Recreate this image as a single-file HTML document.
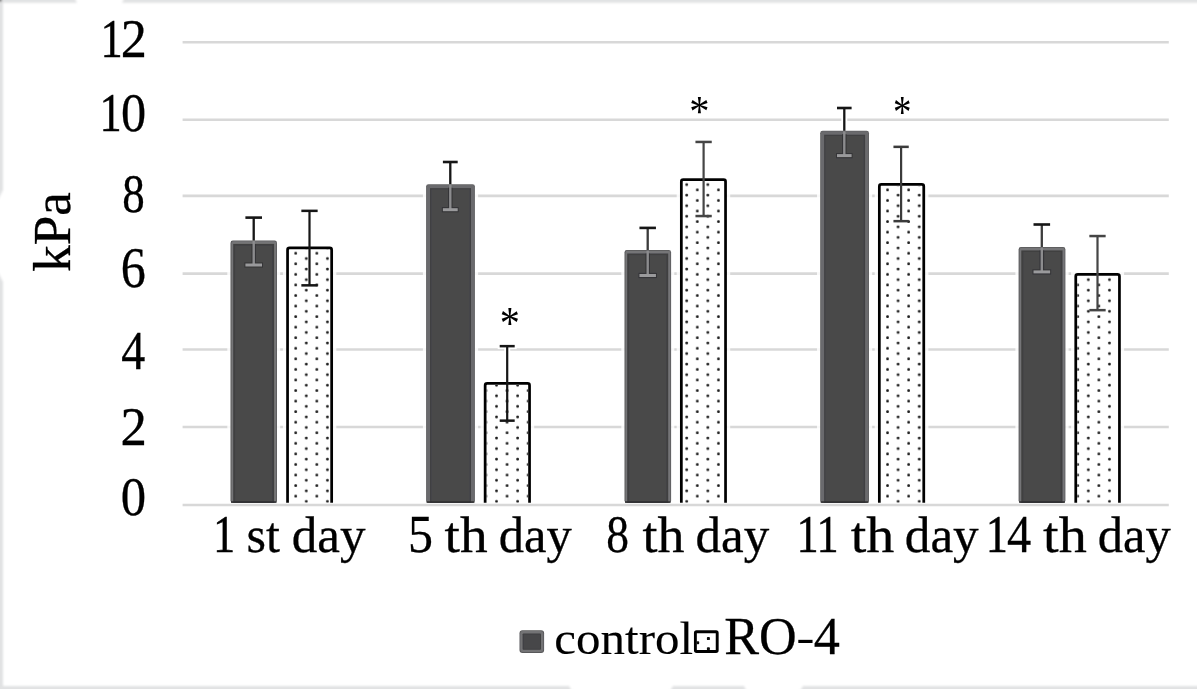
<!DOCTYPE html>
<html><head><meta charset="utf-8"><title>chart</title>
<style>
html,body{margin:0;padding:0;background:#fff;}
body{width:1197px;height:689px;overflow:hidden;}
svg{display:block;}
text{font-family:"Liberation Serif","Times New Roman",serif;fill:#000;}
</style></head><body>
<svg width="1197" height="689" viewBox="0 0 1197 689">
<defs>
<filter id="soft" x="-2%" y="-2%" width="104%" height="104%"><feGaussianBlur stdDeviation="0.55"/></filter>
<filter id="soft2" filterUnits="userSpaceOnUse" x="-20" y="-20" width="1240" height="730"><feGaussianBlur stdDeviation="0.8"/></filter>
<pattern id="dots" patternUnits="userSpaceOnUse" x="294.20" y="251.70" width="21.136" height="10.56">
<rect x="0.2" y="0.2" width="2.6" height="2.6" rx="0.9" fill="#1c1c1c"/>
<rect x="10.768" y="5.48" width="2.6" height="2.6" rx="0.9" fill="#1c1c1c"/>
</pattern>
</defs>
<rect width="1197" height="689" fill="#fff"/>

<g filter="url(#soft2)" fill="#e1e2e3">
<path d="M-9 -9 H71 L77 2.7 H-9 Z"/>
<path d="M128 -9 H1206 V2.7 H122 Z"/>
<path d="M-9 -9 H3.0 V190 L-9 214 Z"/>
<path d="M-9 258 L3.0 282 V698 H-9 Z"/>
<path d="M-9 685.9 H569 L576 698 H-9 Z"/>
<path d="M673 685.9 H744 L750 698 H666 Z"/>
<path d="M803 685.9 H1206 V698 H796 Z"/>
<circle cx="0" cy="0" r="1.8" fill="#555"/>
</g>
<g filter="url(#soft)">
<line x1="182.6" x2="1168.8" y1="42.25" y2="42.25" stroke="#d8d8d8" stroke-width="2.6"/>
<line x1="182.6" x2="1168.8" y1="119.8" y2="119.8" stroke="#d8d8d8" stroke-width="2.6"/>
<line x1="182.6" x2="1168.8" y1="195.85" y2="195.85" stroke="#d8d8d8" stroke-width="2.6"/>
<line x1="182.6" x2="1168.8" y1="273.6" y2="273.6" stroke="#d8d8d8" stroke-width="2.6"/>
<line x1="182.6" x2="1168.8" y1="349.55" y2="349.55" stroke="#d8d8d8" stroke-width="2.6"/>
<line x1="182.6" x2="1168.8" y1="427.0" y2="427.0" stroke="#d8d8d8" stroke-width="2.6"/>
<rect x="227.3" y="237.9" width="52.9" height="264.9" fill="#fff" opacity="0.85"/>
<rect x="250.7" y="214.6" width="6" height="25.9" fill="#fff"/>
<rect x="243.4" y="214.6" width="20.6" height="6" fill="#fff"/>
<rect x="422.9" y="181.6" width="55.2" height="321.2" fill="#fff" opacity="0.85"/>
<rect x="447.3" y="159.0" width="6" height="25.2" fill="#fff"/>
<rect x="440.9" y="159.0" width="18.8" height="6" fill="#fff"/>
<rect x="621.3" y="247.5" width="53.0" height="255.3" fill="#fff" opacity="0.85"/>
<rect x="644.7" y="224.9" width="6" height="25.2" fill="#fff"/>
<rect x="637.5" y="224.9" width="20.5" height="6" fill="#fff"/>
<rect x="817.0" y="128.2" width="55.2" height="374.6" fill="#fff" opacity="0.85"/>
<rect x="841.3" y="105.0" width="6" height="25.8" fill="#fff"/>
<rect x="835.0" y="105.0" width="18.6" height="6" fill="#fff"/>
<rect x="1015.4" y="244.4" width="53.2" height="258.4" fill="#fff" opacity="0.85"/>
<rect x="1038.8" y="221.5" width="6" height="25.5" fill="#fff"/>
<rect x="1031.5" y="221.5" width="20.6" height="6" fill="#fff"/>
<rect x="282.9" y="243.9" width="53.4" height="258.9" fill="#fff" opacity="0.85"/>
<rect x="306.5" y="207.8" width="6" height="38.7" fill="#fff"/>
<rect x="299.4" y="207.8" width="20.3" height="6" fill="#fff"/>
<rect x="480.5" y="379.4" width="53.7" height="123.4" fill="#fff" opacity="0.85"/>
<rect x="504.2" y="343.1" width="6" height="38.9" fill="#fff"/>
<rect x="497.7" y="343.1" width="19.0" height="6" fill="#fff"/>
<rect x="676.7" y="175.5" width="53.5" height="327.3" fill="#fff" opacity="0.85"/>
<rect x="700.6" y="138.9" width="6" height="39.2" fill="#fff"/>
<rect x="693.5" y="138.9" width="20.3" height="6" fill="#fff"/>
<rect x="874.7" y="180.4" width="53.7" height="322.4" fill="#fff" opacity="0.85"/>
<rect x="898.1" y="143.8" width="6" height="39.2" fill="#fff"/>
<rect x="891.5" y="143.8" width="19.3" height="6" fill="#fff"/>
<rect x="1071.1" y="270.4" width="53.0" height="232.4" fill="#fff" opacity="0.85"/>
<rect x="1094.5" y="233.0" width="6" height="40.0" fill="#fff"/>
<rect x="1087.3" y="233.0" width="20.3" height="6" fill="#fff"/>
<rect x="230.5" y="240.5" width="46.5" height="262.3" rx="2.4" fill="#58585a"/>
<rect x="231.4" y="241.2" width="44.9" height="261.6" rx="2" fill="#757577"/>
<rect x="233.2" y="243.9" width="40.9" height="258.9" fill="#3f3f41"/>
<rect x="235.1" y="245.5" width="37.3" height="255.9" fill="#48484a"/>
<rect x="231.0" y="501.3" width="45.5" height="1.5" fill="#2e2e30"/>
<rect x="252.55" y="217.6" width="2.3" height="22.9" fill="#141414"/>
<rect x="245.40" y="216.3" width="16.6" height="2.6" fill="#161616"/>
<rect x="251.40" y="244.0" width="4.6" height="21.0" fill="#353537"/>
<rect x="244.40" y="262.4" width="18.6" height="5.2" fill="#353537"/>
<rect x="252.50" y="241.0" width="2.4" height="24.0" fill="#8c8c8e"/>
<rect x="245.40" y="263.5" width="16.6" height="3" fill="#9a9a9c"/>
<rect x="426.1" y="184.2" width="48.8" height="318.6" rx="2.4" fill="#616163"/>
<rect x="426.8" y="184.9" width="47.4" height="317.9" rx="2" fill="#6b6b6d"/>
<rect x="430.0" y="188.1" width="41.0" height="314.7" fill="#414143"/>
<rect x="431.3" y="189.4" width="38.4" height="312.0" fill="#48484a"/>
<rect x="426.6" y="501.3" width="47.8" height="1.5" fill="#2e2e30"/>
<rect x="449.15" y="162.0" width="2.3" height="22.2" fill="#141414"/>
<rect x="442.90" y="160.7" width="14.8" height="2.6" fill="#161616"/>
<rect x="448.00" y="187.7" width="4.6" height="22.0" fill="#353537"/>
<rect x="441.90" y="207.1" width="16.8" height="5.2" fill="#353537"/>
<rect x="449.10" y="184.7" width="2.4" height="25.0" fill="#8c8c8e"/>
<rect x="442.90" y="208.2" width="14.8" height="3" fill="#9a9a9c"/>
<rect x="624.5" y="250.1" width="46.6" height="252.7" rx="2.4" fill="#58585a"/>
<rect x="625.4" y="250.8" width="45.0" height="252.0" rx="2" fill="#757577"/>
<rect x="627.2" y="253.5" width="41.0" height="249.3" fill="#3f3f41"/>
<rect x="629.1" y="255.1" width="37.4" height="246.3" fill="#48484a"/>
<rect x="625.0" y="501.3" width="45.6" height="1.5" fill="#2e2e30"/>
<rect x="646.55" y="227.9" width="2.3" height="22.2" fill="#3a3a3a"/>
<rect x="639.45" y="226.6" width="16.5" height="2.6" fill="#161616"/>
<rect x="645.40" y="253.6" width="4.6" height="21.9" fill="#353537"/>
<rect x="638.45" y="272.9" width="18.5" height="5.2" fill="#353537"/>
<rect x="646.50" y="250.6" width="2.4" height="24.9" fill="#8c8c8e"/>
<rect x="639.45" y="274.0" width="16.5" height="3" fill="#9a9a9c"/>
<rect x="820.2" y="130.8" width="48.8" height="372.0" rx="2.4" fill="#616163"/>
<rect x="820.9" y="131.5" width="47.4" height="371.3" rx="2" fill="#6b6b6d"/>
<rect x="824.1" y="134.7" width="41.0" height="368.1" fill="#414143"/>
<rect x="825.4" y="136.0" width="38.4" height="365.4" fill="#48484a"/>
<rect x="820.7" y="501.3" width="47.8" height="1.5" fill="#2e2e30"/>
<rect x="843.15" y="108.0" width="2.3" height="22.8" fill="#181818"/>
<rect x="837.00" y="106.7" width="14.6" height="2.6" fill="#161616"/>
<rect x="842.00" y="134.3" width="4.6" height="21.3" fill="#353537"/>
<rect x="836.00" y="153.0" width="16.6" height="5.2" fill="#353537"/>
<rect x="843.10" y="131.3" width="2.4" height="24.3" fill="#8c8c8e"/>
<rect x="837.00" y="154.1" width="14.6" height="3" fill="#9a9a9c"/>
<rect x="1018.6" y="247.0" width="46.8" height="255.8" rx="2.4" fill="#58585a"/>
<rect x="1019.5" y="247.7" width="45.2" height="255.1" rx="2" fill="#757577"/>
<rect x="1021.3" y="250.4" width="41.2" height="252.4" fill="#3f3f41"/>
<rect x="1023.2" y="252.0" width="37.6" height="249.4" fill="#48484a"/>
<rect x="1019.1" y="501.3" width="45.8" height="1.5" fill="#2e2e30"/>
<rect x="1040.65" y="224.5" width="2.3" height="22.5" fill="#3c3c3c"/>
<rect x="1033.50" y="223.2" width="16.6" height="2.6" fill="#161616"/>
<rect x="1039.50" y="250.5" width="4.6" height="21.4" fill="#353537"/>
<rect x="1032.50" y="269.3" width="18.6" height="5.2" fill="#353537"/>
<rect x="1040.60" y="247.5" width="2.4" height="24.4" fill="#8c8c8e"/>
<rect x="1033.50" y="270.4" width="16.6" height="3" fill="#9a9a9c"/>
<rect x="287.6" y="248.0" width="44.0" height="259.3" fill="#fff"/>
<rect x="289.1" y="249.5" width="41.0" height="253.3" fill="url(#dots)"/>
<path d="M287.55 502.8 V249.90 Q287.55 247.95 289.50 247.95 H329.70 Q331.65 247.95 331.65 249.90 V502.8" fill="none" stroke="#050505" stroke-width="2.75"/>
<rect x="308.40" y="210.8" width="2.2" height="74.6" fill="#161616"/>
<rect x="301.35" y="209.6" width="16.3" height="2.5" fill="#161616"/>
<rect x="301.35" y="284.1" width="16.3" height="2.5" fill="#161616"/>
<rect x="485.2" y="383.5" width="44.3" height="123.8" fill="#fff"/>
<rect x="486.7" y="385.0" width="41.3" height="117.8" fill="url(#dots)"/>
<path d="M485.15 502.8 V385.40 Q485.15 383.45 487.10 383.45 H527.60 Q529.55 383.45 529.55 385.40 V502.8" fill="none" stroke="#050505" stroke-width="2.75"/>
<rect x="506.10" y="346.1" width="2.2" height="74.5" fill="#161616"/>
<rect x="499.70" y="344.9" width="15.0" height="2.5" fill="#161616"/>
<rect x="499.70" y="419.4" width="15.0" height="2.5" fill="#161616"/>
<rect x="681.4" y="179.6" width="44.1" height="327.7" fill="#fff"/>
<rect x="682.9" y="181.1" width="41.1" height="321.7" fill="url(#dots)"/>
<path d="M681.35 502.8 V181.50 Q681.35 179.55 683.30 179.55 H723.60 Q725.55 179.55 725.55 181.50 V502.8" fill="none" stroke="#050505" stroke-width="2.75"/>
<rect x="702.50" y="141.9" width="2.2" height="74.1" fill="#444"/>
<rect x="695.45" y="140.7" width="16.3" height="2.5" fill="#444"/>
<rect x="695.45" y="214.8" width="16.3" height="2.5" fill="#444"/>
<rect x="879.4" y="184.5" width="44.3" height="322.8" fill="#fff"/>
<rect x="880.9" y="186.0" width="41.3" height="316.8" fill="url(#dots)"/>
<path d="M879.35 502.8 V186.40 Q879.35 184.45 881.30 184.45 H921.80 Q923.75 184.45 923.75 186.40 V502.8" fill="none" stroke="#050505" stroke-width="2.75"/>
<rect x="900.00" y="146.8" width="2.2" height="74.4" fill="#3a3a3a"/>
<rect x="893.45" y="145.6" width="15.3" height="2.5" fill="#3a3a3a"/>
<rect x="893.45" y="219.9" width="15.3" height="2.5" fill="#3a3a3a"/>
<rect x="1075.8" y="274.5" width="43.6" height="232.8" fill="#fff"/>
<rect x="1077.3" y="276.0" width="40.6" height="226.8" fill="url(#dots)"/>
<path d="M1075.75 502.8 V276.40 Q1075.75 274.45 1077.70 274.45 H1117.50 Q1119.45 274.45 1119.45 276.40 V502.8" fill="none" stroke="#050505" stroke-width="2.75"/>
<rect x="1096.40" y="236.0" width="2.2" height="74.2" fill="#444"/>
<rect x="1089.35" y="234.8" width="16.3" height="2.5" fill="#444"/>
<rect x="1089.35" y="308.9" width="16.3" height="2.5" fill="#444"/>
<line x1="182.6" x2="1168.8" y1="505.05" y2="505.05" stroke="#d8d8d8" stroke-width="2.6"/>
<rect x="519.5" y="630.3" width="24.6" height="22.6" rx="3" fill="#58585a"/>
<rect x="520.3" y="631.1" width="23" height="21" rx="2.4" fill="#737375"/>
<rect x="522.6" y="633.4" width="18.4" height="16.4" rx="0.8" fill="#3f3f41"/>
<rect x="523.6" y="634.4" width="16.4" height="14.4" fill="#47474a"/>
<rect x="695.4" y="631.7" width="21.8" height="19.8" rx="1.2" fill="#fff" stroke="#050505" stroke-width="2.9"/>
<rect x="706.9" y="637.1" width="3" height="3" rx="0.9" fill="#0a0a0a"/>
<rect x="696.6" y="641.2" width="2.6" height="3" rx="0.9" fill="#0a0a0a"/>
<rect x="706.9" y="647.2" width="3" height="3" rx="0.9" fill="#0a0a0a"/>
</g>
<g>
<text y="57.00" stroke="#000"><tspan x="100.87" textLength="21.75" lengthAdjust="spacingAndGlyphs" font-size="53.94" stroke-width="0.65">1</tspan><tspan x="120.75" textLength="26.13" lengthAdjust="spacingAndGlyphs" font-size="53.94" stroke-width="0.3">2</tspan></text>
<text y="130.80" stroke="#000"><tspan x="99.77" textLength="21.75" lengthAdjust="spacingAndGlyphs" font-size="53.94" stroke-width="0.65">1</tspan><tspan x="121.09" dy="0.6" textLength="25.12" lengthAdjust="spacingAndGlyphs" font-size="54.75" stroke-width="0.3">0</tspan></text>
<text transform="translate(122.30,212.45) scale(0.4500,0.5496)" font-size="100" stroke="#000" stroke-width="0.60">8</text>
<text transform="translate(120.64,287.43) scale(0.5012,0.5672)" font-size="100" stroke="#000" stroke-width="0.56">6</text>
<text transform="translate(121.14,369.00) scale(0.4796,0.5470)" font-size="100" stroke="#000" stroke-width="0.59">4</text>
<text transform="translate(120.53,445.10) scale(0.5275,0.5485)" font-size="100" stroke="#000" stroke-width="0.56">2</text>
<text transform="translate(120.87,515.25) scale(0.5071,0.5467)" font-size="100" stroke="#000" stroke-width="0.57">0</text>
<text y="551.50" stroke="#000"><tspan x="213.32" textLength="21.75" lengthAdjust="spacingAndGlyphs" font-size="52.90" stroke-width="0.65">1</tspan> <tspan x="246.60" textLength="33.35" lengthAdjust="spacingAndGlyphs" font-size="51.20" stroke-width="0.3">st</tspan> <tspan x="291.81" textLength="73.78" lengthAdjust="spacingAndGlyphs" font-size="51.20" stroke-width="0.3">day</tspan></text>
<text y="551.50" stroke="#000"><tspan x="407.90" textLength="25.00" lengthAdjust="spacingAndGlyphs" font-size="52.90" stroke-width="0.3">5</tspan> <tspan x="444.55" textLength="43.06" lengthAdjust="spacingAndGlyphs" font-size="51.20" stroke-width="0.3">th</tspan> <tspan x="498.73" textLength="72.96" lengthAdjust="spacingAndGlyphs" font-size="51.20" stroke-width="0.3">day</tspan></text>
<text y="551.50" stroke="#000"><tspan x="606.18" textLength="22.74" lengthAdjust="spacingAndGlyphs" font-size="52.90" stroke-width="0.3">8</tspan> <tspan x="642.56" textLength="41.93" lengthAdjust="spacingAndGlyphs" font-size="51.20" stroke-width="0.3">th</tspan> <tspan x="695.61" textLength="73.68" lengthAdjust="spacingAndGlyphs" font-size="51.20" stroke-width="0.3">day</tspan></text>
<text y="551.50" stroke="#000"><tspan x="796.87" textLength="21.75" lengthAdjust="spacingAndGlyphs" font-size="52.90" stroke-width="0.65">1</tspan><tspan x="816.87" textLength="21.75" lengthAdjust="spacingAndGlyphs" font-size="52.90" stroke-width="0.65">1</tspan> <tspan x="850.74" textLength="43.58" lengthAdjust="spacingAndGlyphs" font-size="51.20" stroke-width="0.3">th</tspan> <tspan x="904.81" textLength="73.89" lengthAdjust="spacingAndGlyphs" font-size="51.20" stroke-width="0.3">day</tspan></text>
<text y="551.50" stroke="#000"><tspan x="985.97" textLength="21.75" lengthAdjust="spacingAndGlyphs" font-size="52.90" stroke-width="0.65">1</tspan><tspan x="1007.03" textLength="24.19" lengthAdjust="spacingAndGlyphs" font-size="52.90" stroke-width="0.3">4</tspan> <tspan x="1043.14" textLength="43.68" lengthAdjust="spacingAndGlyphs" font-size="51.20" stroke-width="0.3">th</tspan> <tspan x="1097.73" textLength="72.96" lengthAdjust="spacingAndGlyphs" font-size="51.20" stroke-width="0.3">day</tspan></text>
<text y="653.60" stroke="#000"><tspan x="554.34" textLength="138.72" lengthAdjust="spacingAndGlyphs" font-size="46.20" stroke-width="0.12">control</tspan></text>
<text y="653.70" stroke="#000"><tspan x="724.13" textLength="72.47" lengthAdjust="spacingAndGlyphs" font-size="51.80" stroke-width="0.3">RO</tspan><tspan x="796.38" dy="-3.07" textLength="18.32" lengthAdjust="spacingAndGlyphs" font-size="42.67" stroke-width="0">-</tspan><tspan x="813.85" dy="3.07" textLength="26.13" lengthAdjust="spacingAndGlyphs" font-size="51.80" stroke-width="0.3">4</tspan></text>
<text transform="translate(499.79,339.39) scale(0.4025,0.4548)" font-size="100" stroke="#000" stroke-width="0.00">*</text>
<text transform="translate(689.18,126.33) scale(0.4050,0.4493)" font-size="100" stroke="#000" stroke-width="0.00">*</text>
<text transform="translate(892.95,128.25) scale(0.3700,0.4740)" font-size="100" stroke="#000" stroke-width="0.00">*</text>
<text transform="translate(69.8,271.76) rotate(-90) scale(1.0155,1)" font-size="52.23" stroke="#000" stroke-width="0.3">kPa</text>
</g>
</svg></body></html>
